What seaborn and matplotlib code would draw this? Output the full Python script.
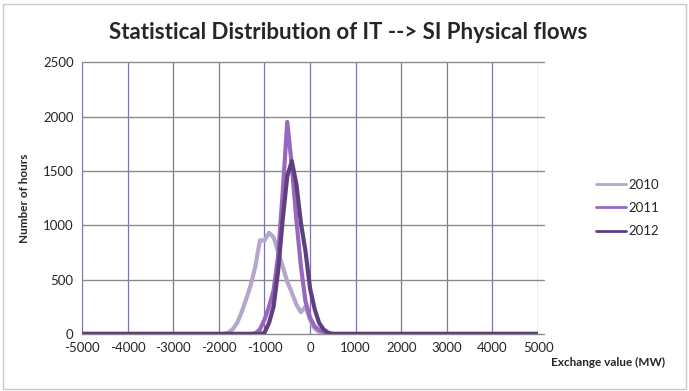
import matplotlib
matplotlib.use("Agg")
import matplotlib.pyplot as plt
import seaborn as sns
import pandas as pd
from matplotlib.patches import Rectangle

# Hourly exchange-value histograms (MW bins, hours per bin)
x_2010 = [-5000, -2000, -1900, -1800, -1700, -1600, -1500, -1400, -1300, -1200, -1100,
          -1000, -900, -800, -700, -600, -500, -400, -300, -200, -100, 0, 100, 200,
          300, 400, 5000]
h_2010 = [0, 0, 0, 10, 40, 100, 200, 320, 450, 620, 860,
          860, 930, 890, 760, 620, 480, 380, 270, 200, 250, 130, 50, 15,
          5, 0, 0]

x_2011 = [-5000, -1300, -1200, -1100, -1000, -900, -800, -700, -600, -500, -400, -300,
          -200, -100, 0, 100, 200, 300, 400, 500, 5000]
h_2011 = [0, 0, 5, 40, 130, 250, 400, 720, 1300, 1950, 1550, 1050,
          620, 300, 150, 70, 35, 20, 5, 0, 0]

x_2012 = [-5000, -1100, -1000, -900, -800, -700, -600, -500, -400, -300, -200, -100,
          0, 100, 200, 300, 400, 500, 5000]
h_2012 = [0, 0, 10, 100, 250, 580, 1050, 1450, 1590, 1380, 1020, 760,
          420, 230, 100, 40, 10, 0, 0]

years = ["2010", "2011", "2012"]
colors = ["#b4a6cc", "#9868bf", "#5f3f80"]

x_ticks = [-5000, -4000, -3000, -2000, -1000, 0, 1000, 2000, 3000, 4000, 5000]
y_ticks = [0, 500, 1000, 1500, 2000, 2500]

frames = []
for yr, xs, hs in zip(years, [x_2010, x_2011, x_2012], [h_2010, h_2011, h_2012]):
    frames.append(pd.DataFrame({"MW": xs, "hours": hs, "year": yr}))
df = pd.concat(frames, ignore_index=True)

sns.set_theme(style="white")
plt.rcParams["font.family"] = ["Lato", "DejaVu Sans"]

fig = plt.figure(figsize=(6.89, 3.91), dpi=100)
ax = fig.add_axes([0.119, 0.146, 0.662, 0.695])

# vertical and horizontal grid (horizontal lines run a little past the last column)
for xv in x_ticks:
    ax.axvline(xv, color="#7d74a8", lw=0.9, zorder=0)
for yv in y_ticks:
    ax.axhline(yv, xmin=0, xmax=1.012, color="#8a8a8a", lw=1.0, zorder=0, clip_on=False)

sns.lineplot(data=df, x="MW", y="hours", hue="year", palette=colors,
             linewidth=3.0, estimator=None, sort=True, ax=ax, legend=False, zorder=3)

ax.set_xlim(-5000, 5000)
ax.set_ylim(0, 2500)
ax.set_xticks(x_ticks)
ax.set_yticks(y_ticks)
ax.set_xticklabels([str(v) for v in x_ticks], fontsize=9.5)
ax.set_yticklabels([str(v) for v in y_ticks], fontsize=9.5)
ax.tick_params(axis="both", length=0, pad=6)
for side in ["top", "right", "left", "bottom"]:
    ax.spines[side].set_visible(False)
ax.margins(x=0)

ax.set_xlabel("")
ax.set_ylabel("Number of hours", fontsize=8.5, fontweight="bold", labelpad=9)
fig.text(0.800, 0.072, "Exchange value (MW)", fontsize=8.5, fontweight="bold",
         ha="left", va="center")

fig.text(0.505, 0.918, "Statistical Distribution of IT --> SI Physical flows",
         fontsize=16, fontweight="bold", ha="center", va="center")

# legend
handles = [plt.Line2D([], [], color=c, lw=2.0) for c in colors]
fig.legend(handles, years, loc="upper left", bbox_to_anchor=(0.848, 0.573),
           frameon=False, fontsize=9.5, handlelength=2.3, handletextpad=0.15,
           labelspacing=0.85)

# figure border
fig.patches.append(Rectangle((0.004, 0.004), 0.992, 0.987, transform=fig.transFigure,
                             fill=False, edgecolor="#c8c8c8", lw=1.0))

fig.savefig("out.png", dpi=100)
